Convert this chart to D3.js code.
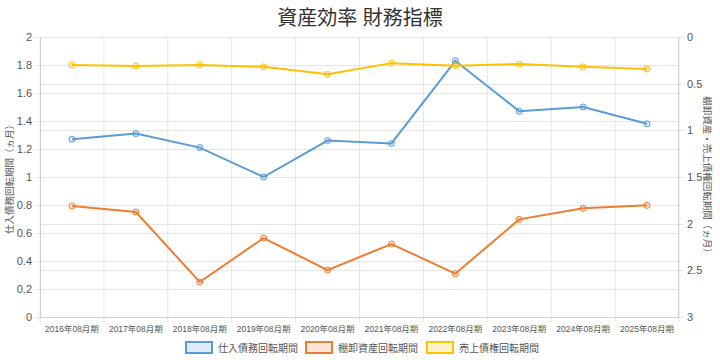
<!DOCTYPE html>
<html><head><meta charset="utf-8">
<script src="https://cdn.jsdelivr.net/npm/d3@7"></script>
<style>
body{margin:0;background:#fff;}
text{font-family:"Liberation Sans","Noto Sans CJK JP",Arial,sans-serif;}
</style></head>
<body><svg id="c" width="720" height="360"></svg>
<script>
const title = "資産効率 財務指標";
const categories = ["2016年08月期","2017年08月期","2018年08月期","2019年08月期","2020年08月期","2021年08月期","2022年08月期","2023年08月期","2024年08月期","2025年08月期"];
const payables = [1.27,1.31,1.21,1.00,1.26,1.24,1.83,1.47,1.50,1.38];
const inventory = [1.81,1.875,2.625,2.154,2.497,2.218,2.536,1.954,1.836,1.804];
const receivables = [0.30,0.31,0.30,0.32,0.40,0.28,0.307,0.29,0.32,0.343];
const leftTicks = [0,0.2,0.4,0.6,0.8,1,1.2,1.4,1.6,1.8,2];
const rightTicks = [0,0.5,1,1.5,2,2.5,3];
const leftTitle = "仕入債務回転期間（ヵ月）";
const rightTitle = "棚卸資産・売上債権回転期間（ヵ月）";
const seriesNames = ["仕入債務回転期間","棚卸資産回転期間","売上債権回転期間"];
const colors = ["#5B9BD5","#ED7D31","#FFC000"];
const fills = ["rgba(91,155,213,0.2)","rgba(237,125,49,0.2)","rgba(255,192,0,0.2)"];

const svg = d3.select("#c");
const L=40,R=679,T=37,B=317;
const x = d3.scaleBand().domain(categories).range([L,R]);
const yL = d3.scaleLinear().domain([0,2]).range([B,T]);
const yR = d3.scaleLinear().domain([0,3]).range([T,B]);
const grid="#e6e6e6";

svg.append("text").attr("x",360).attr("y",25).attr("text-anchor","middle")
  .attr("font-size",20).attr("fill","#333").text(title);

const bounds = categories.map(c=>x(c)).concat([R]);
svg.append("g").selectAll("line").data(bounds).join("line")
  .attr("x1",d=>d).attr("x2",d=>d).attr("y1",T).attr("y2",B+5)
  .attr("stroke",grid).attr("stroke-width",1);
svg.append("g").selectAll("line").data(leftTicks).join("line")
  .attr("x1",L-5).attr("x2",R).attr("y1",d=>Math.round(yL(d))+0.5).attr("y2",d=>Math.round(yL(d))+0.5)
  .attr("stroke",grid);
svg.append("g").selectAll("line").data(rightTicks).join("line")
  .attr("x1",L).attr("x2",R+5).attr("y1",d=>Math.round(yR(d))+0.5).attr("y2",d=>Math.round(yR(d))+0.5)
  .attr("stroke",grid);
svg.append("line").attr("x1",L+0.5).attr("x2",L+0.5).attr("y1",T).attr("y2",B).attr("stroke","#d0d0d0");
svg.append("line").attr("x1",R-0.5).attr("x2",R-0.5).attr("y1",T).attr("y2",B).attr("stroke","#d0d0d0");
svg.append("line").attr("x1",L).attr("x2",R).attr("y1",B+0.5).attr("y2",B+0.5).attr("stroke","#d0d0d0");

svg.append("g").selectAll("text").data(leftTicks).join("text")
  .attr("x",L-8).attr("y",d=>yL(d)+4).attr("text-anchor","end").attr("font-size",11).attr("fill","#555")
  .text(d=>d3.format("~g")(d));
svg.append("g").selectAll("text").data(rightTicks).join("text")
  .attr("x",R+8).attr("y",d=>yR(d)+4).attr("text-anchor","start").attr("font-size",11).attr("fill","#555")
  .text(d=>d3.format("~g")(d));
svg.append("g").selectAll("text").data(categories).join("text")
  .attr("x",d=>x(d)+x.bandwidth()/2).attr("y",B+15).attr("text-anchor","middle").attr("font-size",8.5).attr("fill","#555")
  .text(d=>d);

svg.append("text").attr("transform",`translate(13,${(T+B)/2}) rotate(-90)`).attr("text-anchor","middle")
  .attr("font-size",9.5).attr("fill","#555").text(leftTitle);
svg.append("text").attr("transform",`translate(704,${(T+B)/2}) rotate(90)`).attr("text-anchor","middle")
  .attr("font-size",9.5).attr("fill","#555").text(rightTitle);

const series = [
  {vals:payables, y:yL},
  {vals:inventory, y:yR},
  {vals:receivables, y:yR}
];
series.forEach((s,i)=>{
  const pts = s.vals.map((v,j)=>[x(categories[j])+x.bandwidth()/2, s.y(v)]);
  svg.append("path").attr("d",d3.line()(pts)).attr("fill","none").attr("stroke",colors[i]).attr("stroke-width",2);
  svg.append("g").selectAll("circle").data(pts).join("circle")
    .attr("cx",d=>d[0]).attr("cy",d=>d[1]).attr("r",3)
    .attr("fill",fills[i]).attr("stroke",colors[i]).attr("stroke-width",1);
});

const legX = [186,306,427];
seriesNames.forEach((n,i)=>{
  svg.append("rect").attr("x",legX[i]).attr("y",342).attr("width",26).attr("height",11)
    .attr("fill",fills[i]).attr("stroke",colors[i]).attr("stroke-width",2);
  svg.append("text").attr("x",legX[i]+32).attr("y",351.5).attr("font-size",10).attr("fill","#555").text(n);
});
</script></body></html>
